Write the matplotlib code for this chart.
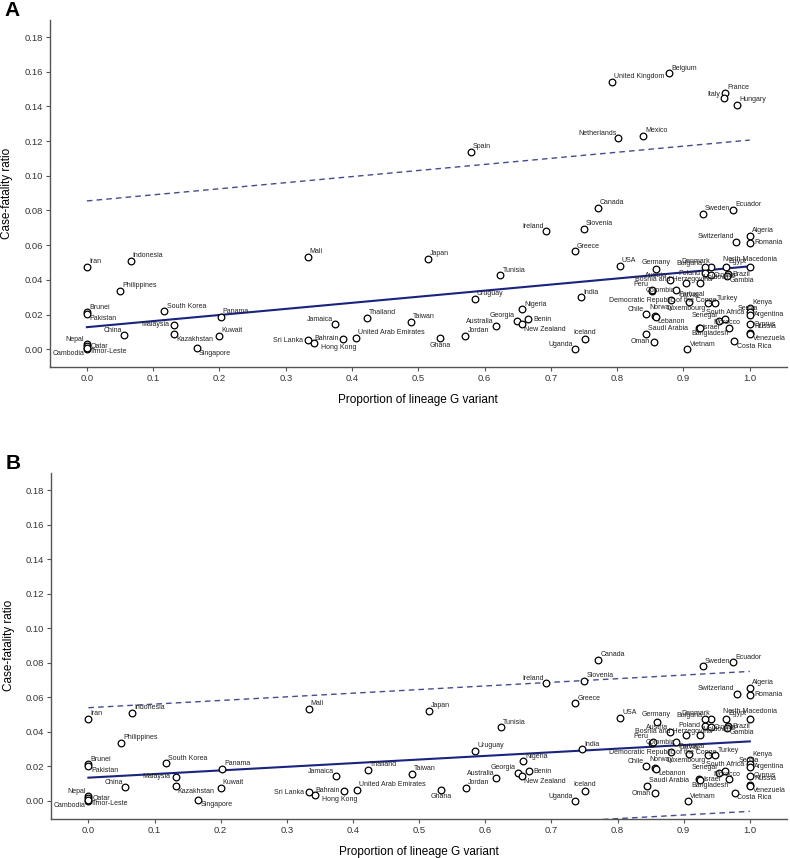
import numpy as np
import matplotlib
matplotlib.use("Agg")
import matplotlib.pyplot as plt

plt.rcParams["font.family"] = ["Liberation Sans", "DejaVu Sans"]

countries = [
    "Iran", "Indonesia", "Philippines", "Brunei", "Pakistan", "South Korea", "Panama",
    "Malaysia", "Kazakhstan", "Kuwait", "China", "Singapore", "Nepal", "Qatar",
    "Cambodia", "Timor-Leste", "Mali", "Jamaica", "Thailand", "Sri Lanka", "Hong Kong",
    "Bahrain", "United Arab Emirates", "Japan", "Tunisia", "Uruguay", "Nigeria", "Benin",
    "Georgia", "New Zealand", "Australia", "Jordan", "Ghana", "Taiwan", "Ireland",
    "Uganda", "Iceland", "India", "Greece", "Slovenia", "Canada", "Spain",
    "United Kingdom", "Belgium", "France", "Italy", "Hungary", "Netherlands", "Mexico",
    "Sweden", "Ecuador", "Switzerland", "Algeria", "Romania", "USA", "Germany",
    "North Macedonia", "Denmark", "Bulgaria", "Egypt", "Poland", "Croatia", "Brazil",
    "Gambia", "Austria", "Bosnia and Herzegovina", "Moldova", "Colombia", "Peru",
    "Portugal", "Democratic Republic of the Congo", "Latvia", "Luxembourg", "Turkey",
    "Chile", "Norway", "Lebanon", "Saudi Arabia", "Oman", "Vietnam", "Israel",
    "Bangladesh", "Senegal", "South Africa", "Morocco", "Costa Rica", "Kenya", "Serbia",
    "Argentina", "Cyprus", "Russia", "Venezuela",
]

g_prop = [
    0.000, 0.066, 0.050, 0.000, 0.000, 0.117, 0.202,
    0.132, 0.132, 0.200, 0.056, 0.166, 0.000, 0.000,
    0.000, 0.000, 0.333, 0.375, 0.422, 0.333, 0.342,
    0.386, 0.406, 0.515, 0.624, 0.585, 0.657, 0.666,
    0.649, 0.656, 0.617, 0.571, 0.533, 0.489, 0.692,
    0.736, 0.751, 0.746, 0.736, 0.750, 0.771, 0.579,
    0.792, 0.878, 0.963, 0.961, 0.981, 0.802, 0.839,
    0.929, 0.975, 0.980, 1.000, 1.000, 0.804, 0.859,
    1.000, 0.942, 0.933, 0.964, 0.932, 0.941, 0.967,
    0.965, 0.879, 0.904, 0.925, 0.852, 0.853,
    0.889, 0.881, 0.908, 0.937, 0.948,
    0.843, 0.857, 0.858, 0.844, 0.856, 0.906, 0.923,
    0.925, 0.954, 0.963, 0.969, 0.977, 1.000, 1.000,
    1.000, 1.000, 1.000, 1.000,
]

cfr = [
    0.0476, 0.0510, 0.0337, 0.0212, 0.0205, 0.0218, 0.0187,
    0.0140, 0.0085, 0.0077, 0.0079, 0.0006, 0.0030, 0.0017,
    0.0000, 0.0008, 0.0534, 0.0143, 0.0181, 0.0052, 0.0033,
    0.0058, 0.0065, 0.0522, 0.0426, 0.0289, 0.0229, 0.0173,
    0.0164, 0.0143, 0.0131, 0.0077, 0.0064, 0.0156, 0.0682,
    0.0000, 0.0056, 0.0299, 0.0565, 0.0694, 0.0817, 0.1137,
    0.1540, 0.1590, 0.1478, 0.1447, 0.1410, 0.1216, 0.1231,
    0.0780, 0.0803, 0.0620, 0.0655, 0.0614, 0.0482, 0.0460,
    0.0476, 0.0476, 0.0472, 0.0476, 0.0437, 0.0428, 0.0432,
    0.0424, 0.0399, 0.0380, 0.0383, 0.0336, 0.0340,
    0.0341, 0.0283, 0.0272, 0.0264, 0.0264,
    0.0202, 0.0190, 0.0186, 0.0087, 0.0044, 0.0000, 0.0125,
    0.0122, 0.0164, 0.0173, 0.0125, 0.0046, 0.0235, 0.0212,
    0.0198, 0.0145, 0.0095, 0.0087,
]

# regression line and prediction band: (intercept, slope, half width)
fit_a = (0.0127, 0.0351, 0.0728)
fit_b = (0.0135, 0.0210, 0.0405)
line_x = [0.0, 1.0]

x_ticks = np.round(np.arange(0, 1.01, 0.1), 1)
y_ticks = np.round(np.arange(0, 0.181, 0.02), 2)

# label placement (offset points, ha, va); default is up and to the right
default_pos = (1.5, 1.2, "left", "bottom")
label_pos = {
    "Nepal": (-2, 0.5, "right", "bottom"),
    "Qatar": (3, 0, "left", "center"),
    "Cambodia": (-2, -0.5, "right", "top"),
    "Timor-Leste": (2, -0.5, "left", "top"),
    "Pakistan": (2, -0.8, "left", "top"),
    "China": (-1.5, 1, "right", "bottom"),
    "Malaysia": (-3.5, 0, "right", "center"),
    "Kazakhstan": (1.5, -1, "left", "top"),
    "Singapore": (1.5, -1, "left", "top"),
    "Sri Lanka": (-3.5, 0, "right", "center"),
    "Hong Kong": (5, -0.5, "left", "top"),
    "Bahrain": (-3, 0.5, "right", "center"),
    "Jamaica": (-1.5, 1, "right", "bottom"),
    "Ghana": (0, -2.5, "center", "top"),
    "Australia": (-1.5, 1, "right", "bottom"),
    "Georgia": (-1.5, 1, "right", "bottom"),
    "New Zealand": (1.5, -1, "left", "top"),
    "Benin": (3.5, 0, "left", "center"),
    "Ireland": (-1.5, 1, "right", "bottom"),
    "Uganda": (-1.5, 1, "right", "bottom"),
    "Iceland": (0, 2.5, "center", "bottom"),
    "Italy": (-2.5, 0.5, "right", "bottom"),
    "Netherlands": (-1.5, 1, "right", "bottom"),
    "Switzerland": (-1.5, 1, "right", "bottom"),
    "Romania": (3.5, 0, "left", "center"),
    "Germany": (0, 2.5, "center", "bottom"),
    "North Macedonia": (0, 2.5, "center", "bottom"),
    "Denmark": (-11, 1.5, "center", "bottom"),
    "Bulgaria": (-2, 0.5, "right", "bottom"),
    "Egypt": (2, 1, "left", "bottom"),
    "Brazil": (3, 0, "left", "center"),
    "Poland": (-3, 0, "right", "center"),
    "Croatia": (2, -0.5, "left", "center"),
    "Gambia": (2, -0.8, "left", "top"),
    "Austria": (-1.5, 1, "right", "bottom"),
    "Bosnia and Herzegovina": (-9, 0.5, "center", "bottom"),
    "Colombia": (6, 0, "center", "center"),
    "Peru": (-3, 1.5, "right", "bottom"),
    "Portugal": (1.5, -1, "left", "top"),
    "Democratic Republic of the Congo": (-6, 0, "center", "center"),
    "Latvia": (0, 2.5, "center", "bottom"),
    "Luxembourg": (-2, -1, "right", "top"),
    "Turkey": (1.5, 1, "left", "bottom"),
    "Chile": (-1.5, 1, "right", "bottom"),
    "Norway": (-4, 4, "left", "bottom"),
    "Lebanon": (1.5, -1, "left", "top"),
    "Saudi Arabia": (1.5, 1.5, "left", "bottom"),
    "Oman": (-3, 0, "right", "center"),
    "Vietnam": (1.5, 1, "left", "bottom"),
    "Israel": (3, 0, "left", "center"),
    "Bangladesh": (7, -1.5, "center", "top"),
    "Senegal": (-1.5, 1, "right", "bottom"),
    "South Africa": (0, 2.5, "center", "bottom"),
    "Morocco": (-2, 1, "center", "bottom"),
    "Costa Rica": (1.5, -1, "left", "top"),
    "Kenya": (2, 2, "left", "bottom"),
    "Serbia": (-1, 0.5, "center", "bottom"),
    "Argentina": (3, 0, "left", "center"),
    "Cyprus": (3, 0, "left", "center"),
    "Russia": (3, 2, "left", "bottom"),
    "Venezuela": (2, -1, "left", "top"),
}

x = np.array(g_prop)
y = np.array(cfr)

fig = plt.figure(figsize=(7.9, 8.58), dpi=100)
ax_a = fig.add_axes([0.063, 0.572, 0.933, 0.405])
ax_b = fig.add_axes([0.065, 0.0455, 0.931, 0.4035])


def draw_panel(ax, keep, fit, letter):
    ax.plot(x[keep], y[keep], "o", ms=4.8, mfc="white", mec="black", mew=0.9,
            zorder=3, clip_on=False)
    for name, xi, yi in zip(np.array(countries)[keep], x[keep], y[keep]):
        dx, dy, ha, va = label_pos.get(name, default_pos)
        ax.annotate(name, (xi, yi), xytext=(dx, dy), textcoords="offset points",
                    ha=ha, va=va, fontsize=5, color="#222222", zorder=4)

    b0, b1, half = fit
    lx = np.array(line_x)
    ly = b0 + b1 * lx
    ax.plot(lx, ly, color="#1a237e", lw=1.5, zorder=2)
    ax.plot(lx, ly + half, color="#3f4d8f", lw=1.0, ls=(0, (4, 3)), zorder=2)
    ax.plot(lx, ly - half, color="#3f4d8f", lw=1.0, ls=(0, (4, 3)), zorder=2)

    ax.set_xlim(-0.056, 1.056)
    ax.set_ylim(-0.0104, 0.19)
    ax.set_xticks(x_ticks)
    ax.set_xticklabels([f"{t:.1f}" for t in x_ticks])
    ax.set_yticks(y_ticks)
    ax.set_yticklabels([f"{t:.2f}" for t in y_ticks])
    ax.tick_params(labelsize=6.8, length=3, width=0.8, color="#555555",
                   labelcolor="#333333", pad=2)
    for side in ["top", "right"]:
        ax.spines[side].set_visible(False)
    for side in ["left", "bottom"]:
        ax.spines[side].set_color("#555555")
        ax.spines[side].set_linewidth(1.0)
    ax.set_xlabel("Proportion of lineage G variant", fontsize=8.5, labelpad=8)
    ax.set_ylabel("Case-fatality ratio", fontsize=8.5, labelpad=8)
    ax.text(-0.062, 1.0, letter, transform=ax.transAxes, fontsize=15,
            fontweight="bold", ha="left", va="bottom")


draw_panel(ax_a, np.ones(len(x), dtype=bool), fit_a, "A")
draw_panel(ax_b, y < 0.1, fit_b, "B")

fig.savefig("out.png", dpi=100)
